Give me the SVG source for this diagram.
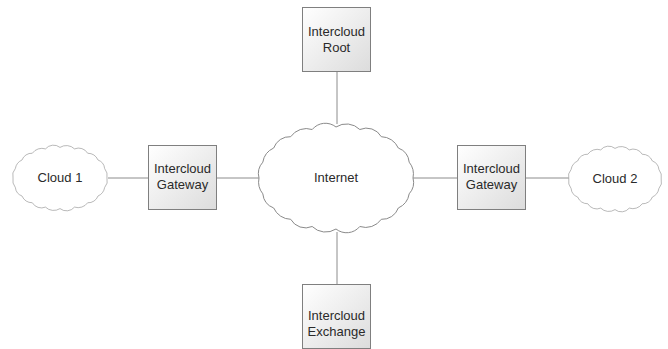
<svg xmlns="http://www.w3.org/2000/svg" xmlns:xlink="http://www.w3.org/1999/xlink" width="668" height="349" viewBox="0 0 668 349">
<style>
.box{stroke:#7f7f7f;stroke-width:1;fill:url(#g)}
.cloud{stroke:#8a8a8a;stroke-width:1;fill:#fff;vector-effect:non-scaling-stroke}
.ln{stroke:#8c8c8c;stroke-width:1;fill:none}
text{font-family:"Liberation Sans",Arial,sans-serif;font-size:13px;fill:#2a2a2a;text-anchor:middle}
</style>
<defs>
<linearGradient id="g" x1="0" y1="0" x2="1" y2="1">
<stop offset="0" stop-color="#ffffff"/>
<stop offset="1" stop-color="#dcdcdc"/>
</linearGradient>
<path id="cl" d="M77,0 A17,17 0 0 1 73.2,15.8 A19,19 0 0 1 62.3,30 A17,17 0 0 1 45.3,41.3 A19,19 0 0 1 23.8,48.5 A17,17 0 0 1 0,51 A19,19 0 0 1 -23.8,48.5 A17,17 0 0 1 -45.3,41.3 A19,19 0 0 1 -62.3,30 A17,17 0 0 1 -73.2,15.8 A19,19 0 0 1 -77,0 A17,17 0 0 1 -73.2,-15.8 A19,19 0 0 1 -62.3,-30 A17,17 0 0 1 -45.3,-41.3 A19,19 0 0 1 -23.8,-48.5 A17,17 0 0 1 0,-51 A19,19 0 0 1 23.8,-48.5 A17,17 0 0 1 45.3,-41.3 A19,19 0 0 1 62.3,-30 A17,17 0 0 1 73.2,-15.8 A19,19 0 0 1 77,0 Z"/>
</defs>
<g id="connectors">
<line class="ln" x1="108" y1="178" x2="148" y2="178"/>
<line class="ln" x1="216" y1="178" x2="260" y2="178"/>
<line class="ln" x1="412" y1="178" x2="457" y2="178"/>
<line class="ln" x1="525" y1="178" x2="569" y2="178"/>
<line class="ln" x1="337" y1="71" x2="337" y2="124"/>
<line class="ln" x1="337" y1="232" x2="337" y2="284"/>
</g>
<g id="cloud1">
<use xlink:href="#cl" class="cloud" transform="translate(60,178) scale(0.61,0.6)"/>
<text x="60" y="182">Cloud 1</text>
</g>
<g id="gateway1">
<rect class="box" x="148.5" y="145.5" width="68" height="64"/>
<text x="182.5" y="173">Intercloud</text>
<text x="182.5" y="189">Gateway</text>
</g>
<g id="internet">
<use xlink:href="#cl" class="cloud" transform="translate(336,178)"/>
<text x="336" y="182">Internet</text>
</g>
<g id="root">
<rect class="box" x="302.5" y="7.5" width="68" height="64"/>
<text x="336.5" y="36">Intercloud</text>
<text x="336.5" y="52">Root</text>
</g>
<g id="exchange">
<rect class="box" x="302.5" y="284.5" width="68" height="64"/>
<text x="336.5" y="320">Intercloud</text>
<text x="336.5" y="336">Exchange</text>
</g>
<g id="gateway2">
<rect class="box" x="457.5" y="145.5" width="68" height="64"/>
<text x="491.5" y="173">Intercloud</text>
<text x="491.5" y="189">Gateway</text>
</g>
<g id="cloud2">
<use xlink:href="#cl" class="cloud" transform="translate(615,179) scale(0.6,0.6)"/>
<text x="615" y="183">Cloud 2</text>
</g>
</svg>
